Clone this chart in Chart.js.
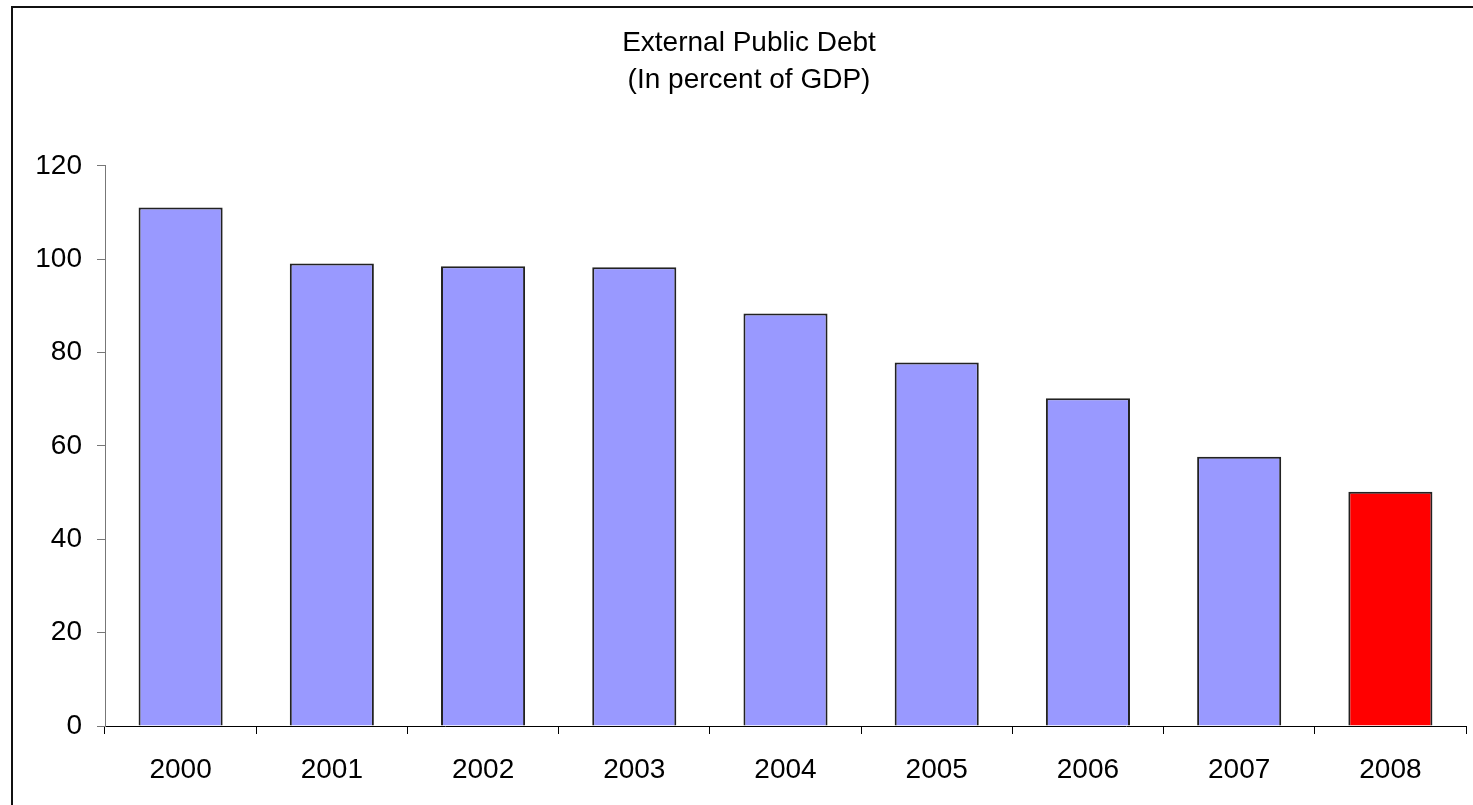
<!DOCTYPE html>
<html>
<head>
<meta charset="utf-8">
<title>External Public Debt</title>
<script src="https://cdn.jsdelivr.net/npm/chart.js@4"></script>
<style>
  html, body { margin: 0; padding: 0; background: #fff; overflow: hidden; }
  #wrap { position: relative; width: 1473px; height: 805px; }
</style>
</head>
<body>
<div id="wrap"><canvas id="myChart"></canvas></div>
<script>
const years = ["2000","2001","2002","2003","2004","2005","2006","2007","2008"];
const debtPctGdp = [111.1, 99.1, 98.5, 98.3, 88.4, 77.9, 70.2, 57.7, 50.2];
const barColors = ["#9999FF","#9999FF","#9999FF","#9999FF","#9999FF","#9999FF","#9999FF","#9999FF","#FF0000"];
const titleLines = ["External Public Debt", "(In percent of GDP)"];

const FONT = "'Liberation Sans', Arial, sans-serif";

// frame round the whole chart (only left and top edges are visible)
const frame = {
  id: "frame",
  afterDraw(chart) {
    const c = chart.ctx;
    c.save();
    c.strokeStyle = "#111";
    c.lineWidth = 2;
    c.beginPath();
    c.moveTo(12, 805);
    c.lineTo(12, 7);
    c.lineTo(1473, 7);
    c.stroke();
    c.restore();
  }
};

new Chart("myChart", {
  type: "bar",
  data: {
    labels: years,
    datasets: [{
      data: debtPctGdp,
      backgroundColor: barColors,
      borderColor: "#222",
      borderWidth: 2,
      categoryPercentage: 1,
      barPercentage: 0.556
    }]
  },
  options: {
    responsive: true,
    maintainAspectRatio: false,
    animation: false,
    layout: { padding: { left: 32, right: 7, top: 0, bottom: 0 } },
    plugins: {
      legend: { display: false },
      tooltip: { enabled: false },
      title: {
        display: true,
        text: titleLines,
        color: "#000",
        font: { family: FONT, size: 28, weight: "normal", lineHeight: 1.32 },
        padding: { top: 25, bottom: 67 }
      }
    },
    scales: {
      x: {
        grid: { drawOnChartArea: false, drawTicks: true, tickLength: 8, color: "#000", offset: true },
        border: { color: "#000", width: 1 },
        ticks: { color: "#000", font: { family: FONT, size: 28 }, padding: 19, maxRotation: 0 },
        afterFit(scale) { scale.height = 79; }
      },
      y: {
        min: 0,
        max: 120,
        grid: { drawOnChartArea: false, drawTicks: true, tickLength: 8, color: "#777" },
        border: { color: "#777", width: 1 },
        ticks: { stepSize: 20, color: "#000", font: { family: FONT, size: 28 }, padding: 15 },
        afterFit(scale) { scale.width = 73; }
      }
    }
  },
  plugins: [frame]
});
</script>
</body>
</html>
